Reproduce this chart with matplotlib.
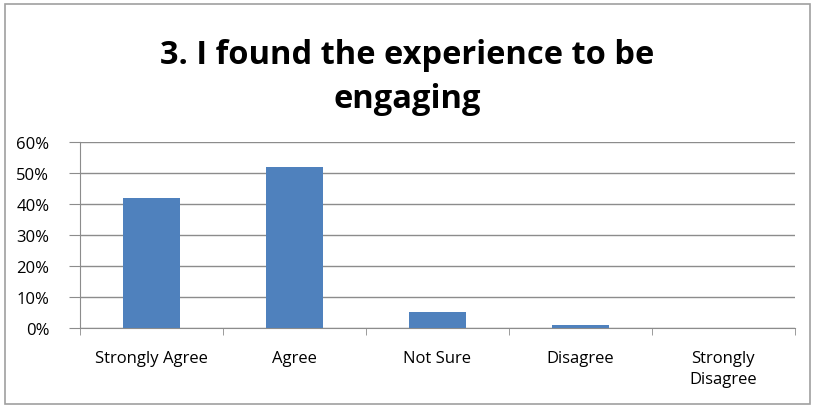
import numpy as np
import matplotlib.pyplot as plt
from matplotlib.patches import Rectangle
from matplotlib.ticker import FuncFormatter, FixedLocator

categories = ['Strongly Agree', 'Agree', 'Not Sure', 'Disagree', 'Strongly\nDisagree']
shares = [0.42, 0.52, 0.05, 0.01, 0.0]
title = '3. I found the experience to be\nengaging'

plt.rcParams['font.family'] = ['Open Sans', 'DejaVu Sans']

fig = plt.figure(figsize=(8.15, 4.1), dpi=100)
ax = fig.add_axes([0.098, 0.198, 0.877, 0.453])

x = np.arange(len(categories))
ax.bar(x, shares, width=0.4, color='#4f81bd', zorder=3)

ax.set_xlim(-0.5, len(categories) - 0.5)
ax.set_ylim(0, 0.6)
ax.set_yticks(np.arange(0, 0.61, 0.1))
ax.yaxis.set_major_formatter(FuncFormatter(lambda v, _: f'{v * 100:.0f}%'))
ax.grid(axis='y', color='#8c8c8c', linewidth=1, zorder=0)

ax.set_xticks(x)
ax.set_xticklabels(categories, fontsize=12, linespacing=1.45)
ax.xaxis.set_minor_locator(FixedLocator(np.arange(-0.5, len(categories), 1.0)))
ax.tick_params(axis='x', which='major', length=0, pad=16)
ax.tick_params(axis='x', which='minor', length=5, color='#8c8c8c', direction='out')
ax.tick_params(axis='y', length=8, color='#8c8c8c', labelsize=12, pad=14)

for side in ('top', 'right'):
    ax.spines[side].set_visible(False)
for side in ('left', 'bottom'):
    ax.spines[side].set_color('#8c8c8c')

fig.text(0.5, 0.905, title, ha='center', va='top', fontsize=23.5,
         fontweight='bold', linespacing=1.45)

# frame around the whole chart
fig.patches.append(Rectangle((0.006, 0.012), 0.988, 0.976, transform=fig.transFigure,
                             fill=False, edgecolor='#a0a0a0', linewidth=1.2))

fig.savefig('out.png', dpi=100)
